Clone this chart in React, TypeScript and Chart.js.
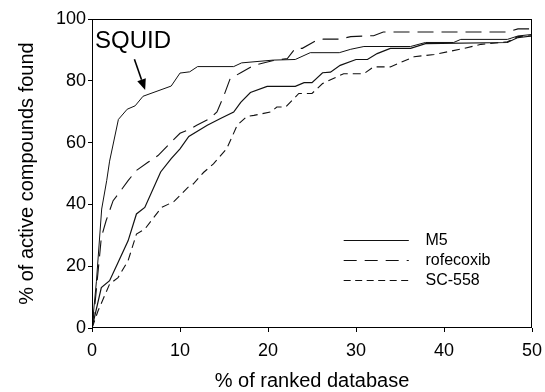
import React, { useEffect, useRef } from "react";
import { Chart, registerables } from "chart.js";

Chart.register(...registerables);

// ---------- data ----------
const squidX = [0, 0.5, 1.1, 1.67, 2.0, 3.0, 4.0, 4.9, 5.8, 9.0, 10.0, 11.1, 12.0, 16.1, 17.0, 20.6, 23.1, 24.8, 28.1, 29.4, 30.9, 36.2, 37.9, 41.1, 41.9, 47.2, 48.4, 50];
const squidY = [0, 15, 38.5, 47.7, 54, 67.5, 70.8, 71.9, 75, 78.3, 82.5, 82.9, 84.6, 84.6, 85.8, 86.7, 86.9, 89.1, 89.1, 90.2, 91.1, 91.1, 92.4, 92.4, 93.4, 93.4, 94.5, 95];

const m5X = [0, 1.06, 2.0, 2.96, 4.1, 5.05, 6.0, 7.8, 9.0, 10.0, 11.0, 13.1, 14.6, 16.1, 16.9, 18.0, 19.9, 23.1, 24.1, 25.0, 26.2, 27.1, 28.2, 30.0, 31.3, 32.4, 33.9, 36.2, 37.9, 47.2, 48.4, 50];
const m5Y = [0, 13.1, 15.3, 21.2, 28.2, 36.9, 39, 50.5, 54.8, 58, 62, 65.6, 67.8, 69.9, 73, 76.2, 78.2, 78.2, 79.4, 79.4, 82.6, 82.8, 85, 86.9, 86.9, 88.8, 90.5, 90.5, 92, 92.4, 94, 94.5];

const rofX = [0, 0.3, 0.88, 1.06, 1.6, 2.4, 3.0, 4.1, 5.05, 6.4, 7.5, 8.8, 10.0, 11.2, 11.9, 13.4, 14.2, 15.0, 15.7, 16.9, 18.4, 20.5, 22.2, 23.1, 23.9, 25.6, 26.3, 28.2, 29.4, 32.0, 33.1, 47.2, 48.4, 50];
const rofY = [0, 6.6, 23.9, 29.3, 34.7, 41.2, 43.4, 47.7, 51, 53.7, 55.8, 59.6, 63, 64.5, 65.6, 67.8, 69.9, 75.3, 80.7, 82.6, 85, 86.5, 87.2, 90.5, 90.5, 93.2, 93.5, 93.5, 94.3, 94.6, 95.8, 95.8, 96.8, 96.8];

const scX = [0, 0.68, 2.0, 2.96, 4.1, 5.05, 6.0, 7.9, 9.3, 10.9, 11.5, 12.7, 13.8, 15.3, 16.5, 17.6, 18.4, 20.3, 21.0, 22.0, 23.5, 25.0, 26.2, 28.6, 30.9, 32.0, 33.9, 36.6, 38.9, 42.3, 44.2, 47.2, 48.4, 50];
const scY = [0, 5.5, 14.2, 16.3, 21.8, 30.4, 32, 39, 40.9, 45.5, 46.6, 50.4, 53.1, 58, 65.6, 68.5, 68.8, 69.9, 71.5, 71.5, 75.9, 75.9, 79.1, 82.3, 82.3, 84.5, 84.5, 87.8, 88.5, 90.5, 91.8, 92.6, 94.3, 94.6];

const seriesNames = ["SQUID", "M5", "rofecoxib", "SC-558"];
const legendNames = ["M5", "rofecoxib", "SC-558"];
const xTicks = [0, 10, 20, 30, 40, 50];
const yTicks = [0, 20, 40, 60, 80, 100];
const xTitle = "% of ranked database";
const yTitle = "% of active compounds found";
const annotationLabel = "SQUID";

const FONT = "'Liberation Sans', Arial, Helvetica, sans-serif";

function pts(xs: number[], ys: number[]) {
  return xs.map((x, i) => ({ x, y: ys[i] }));
}

export default function App() {
  const ref = useRef<HTMLCanvasElement>(null);

  useEffect(() => {
    document.body.style.margin = "0";
    const canvas = ref.current;
    if (!canvas) return;

    const framePlugin = {
      id: "frame",
      afterDatasetsDraw(chart: any) {
        const { ctx, chartArea: a } = chart;
        ctx.save();
        ctx.strokeStyle = "#000";
        ctx.lineWidth = 1;
        const l = Math.round(a.left) + 0.5;
        const t = Math.round(a.top) + 0.5;
        const r = Math.round(a.right) - 0.5;
        const b = Math.round(a.bottom) - 0.5;
        ctx.strokeRect(l, t, r - l, b - t);
        ctx.restore();
      },
    };

    const overlayPlugin = {
      id: "overlay",
      afterDraw(chart: any) {
        const { ctx } = chart;
        const xs = chart.scales.x;
        const ys = chart.scales.y;
        ctx.save();
        // legend
        const ds = chart.data.datasets;
        const rowsY = [28.5, 22.0, 15.5];
        const x0 = xs.getPixelForValue(28.6);
        const x1 = xs.getPixelForValue(36.0);
        const xt = xs.getPixelForValue(37.9);
        ctx.font = `16px ${FONT}`;
        ctx.textBaseline = "middle";
        ctx.textAlign = "left";
        legendNames.forEach((name, i) => {
          const d = ds.find((q: any) => q.label === name);
          const py = Math.round(ys.getPixelForValue(rowsY[i])) + 0.5;
          ctx.strokeStyle = d.borderColor;
          ctx.lineWidth = d.borderWidth;
          ctx.setLineDash(d.legendDash || []);
          ctx.beginPath();
          ctx.moveTo(x0, py);
          ctx.lineTo(x1, py);
          ctx.stroke();
          ctx.setLineDash([]);
          ctx.fillStyle = "#000";
          ctx.fillText(name, xt, py);
        });
        // annotation
        ctx.font = `24px ${FONT}`;
        ctx.textBaseline = "alphabetic";
        ctx.fillStyle = "#000";
        ctx.fillText(annotationLabel, xs.getPixelForValue(0.35), ys.getPixelForValue(90.6));
        const ax0 = xs.getPixelForValue(4.82), ay0 = ys.getPixelForValue(87.0);
        const ax1 = xs.getPixelForValue(6.04), ay1 = ys.getPixelForValue(77.0);
        const ang = Math.atan2(ay1 - ay0, ax1 - ax0);
        const hl = 11, hw = 4.5;
        const bx = ax1 - hl * Math.cos(ang), by = ay1 - hl * Math.sin(ang);
        ctx.strokeStyle = "#000";
        ctx.lineWidth = 1.6;
        ctx.beginPath();
        ctx.moveTo(ax0, ay0);
        ctx.lineTo(bx, by);
        ctx.stroke();
        ctx.beginPath();
        ctx.moveTo(ax1, ay1);
        ctx.lineTo(bx + hw * Math.sin(ang), by - hw * Math.cos(ang));
        ctx.lineTo(bx - hw * Math.sin(ang), by + hw * Math.cos(ang));
        ctx.closePath();
        ctx.fill();
        ctx.restore();
      },
    };

    const base = {
      fill: false,
      pointRadius: 0,
      tension: 0,
      borderColor: "#111",
    };

    const chart = new Chart(canvas, {
      type: "line",
      data: {
        datasets: [
          { ...base, label: seriesNames[0], data: pts(squidX, squidY), borderWidth: 1 },
          { ...base, label: seriesNames[1], data: pts(m5X, m5Y), borderWidth: 1.2 },
          { ...base, label: seriesNames[2], data: pts(rofX, rofY), borderWidth: 1.1, borderDash: [16, 8], legendDash: [13, 8] } as any,
          { ...base, label: seriesNames[3], data: pts(scX, scY), borderWidth: 1.1, borderDash: [8, 5], legendDash: [7, 4.5] } as any,
        ],
      },
      options: {
        responsive: false,
        animation: false,
        devicePixelRatio: 1,
        layout: { padding: { left: 0, right: 13, top: 19, bottom: 0 } },
        plugins: { legend: { display: false }, tooltip: { enabled: false } },
        scales: {
          x: {
            type: "linear",
            min: 0,
            max: 50,
            afterBuildTicks: (s: any) => { s.ticks = xTicks.map((v) => ({ value: v })); },
            afterFit: (s: any) => { s.height = 64; s.paddingLeft = 0; s.paddingRight = 0; },
            grid: { display: true, drawOnChartArea: false, drawTicks: true, tickLength: 4, color: "#000" },
            border: { display: false },
            ticks: { color: "#000", font: { family: FONT, size: 18 }, padding: 8, maxRotation: 0 },
            title: { display: true, text: xTitle, color: "#000", font: { family: FONT, size: 20, lineHeight: 1.05 }, padding: { top: 4, bottom: 0 } },
          },
          y: {
            type: "linear",
            min: 0,
            max: 100,
            afterBuildTicks: (s: any) => { s.ticks = yTicks.map((v) => ({ value: v })); },
            afterFit: (s: any) => { s.width = 92; s.paddingTop = 0; s.paddingBottom = 0; },
            grid: { display: true, drawOnChartArea: false, drawTicks: true, tickLength: 4, color: "#000" },
            border: { display: false },
            ticks: { color: "#000", font: { family: FONT, size: 18 }, padding: 2 },
            title: { display: true, text: yTitle, color: "#000", font: { family: FONT, size: 20 }, padding: { top: 15, bottom: 0 } },
          },
        },
      },
      plugins: [framePlugin, overlayPlugin],
    });

    return () => chart.destroy();
  }, []);

  return (
    <div style={{ width: 545, height: 392 }}>
      <canvas ref={ref} width={545} height={392} style={{ display: "block" }} />
    </div>
  );
}
